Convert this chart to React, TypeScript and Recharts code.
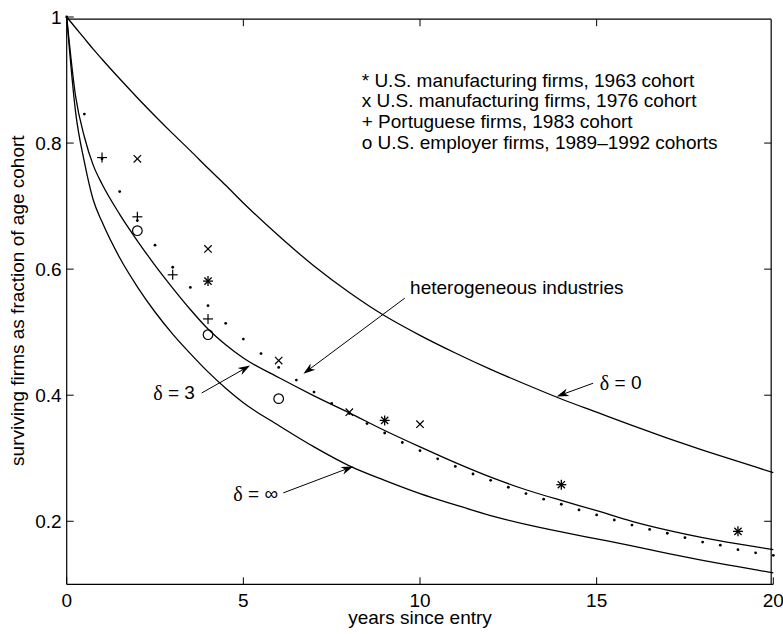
import {
  ComposedChart,
  Line,
  ReferenceDot,
  ReferenceLine,
  Scatter,
  XAxis,
  YAxis,
} from "recharts";

// model curves
const curveYears = [
  0, 0.25, 0.5, 0.75, 1, 1.5, 2, 2.5, 3, 3.5, 4, 4.5, 5, 6, 7, 8, 9, 10, 11, 12,
  13, 14, 15, 16, 17, 18, 19, 20,
];
const deltaZero = [
  1, 0.983, 0.966, 0.949, 0.933, 0.902, 0.872, 0.843, 0.815, 0.788, 0.76, 0.733,
  0.705, 0.653, 0.605, 0.563, 0.526, 0.495, 0.467, 0.441, 0.417, 0.394, 0.373,
  0.352, 0.332, 0.313, 0.295, 0.277,
];
const deltaThree = [
  1, 0.875, 0.81, 0.765, 0.735, 0.687, 0.645, 0.606, 0.57, 0.536, 0.505, 0.48,
  0.459, 0.428, 0.399, 0.372, 0.344, 0.318, 0.293, 0.27, 0.25, 0.233, 0.217,
  0.2, 0.186, 0.174, 0.164, 0.155,
];
const deltaInf = [
  1, 0.85, 0.77, 0.71, 0.675, 0.618, 0.572, 0.532, 0.497, 0.466, 0.437, 0.411,
  0.388, 0.352, 0.318, 0.288, 0.265, 0.244, 0.226, 0.209, 0.195, 0.183, 0.172,
  0.161, 0.149, 0.138, 0.128, 0.118,
];

// heterogeneous industries (dotted)
const hetYears = [
  0, 0.5, 1, 1.5, 2, 2.5, 3, 3.5, 4, 4.5, 5, 5.5, 6, 6.5, 7, 7.5, 8, 8.5, 9,
  9.5, 10, 10.5, 11, 11.5, 12, 12.5, 13, 13.5, 14, 14.5, 15, 15.5, 16, 16.5, 17,
  17.5, 18, 18.5, 19, 19.5, 20,
];
const hetValues = [
  1, 0.846, 0.775, 0.723, 0.677, 0.638, 0.603, 0.571, 0.542, 0.514, 0.489,
  0.466, 0.444, 0.424, 0.405, 0.387, 0.371, 0.355, 0.34, 0.325, 0.312, 0.299,
  0.287, 0.275, 0.265, 0.254, 0.244, 0.235, 0.227, 0.218, 0.21, 0.202, 0.194,
  0.187, 0.181, 0.174, 0.167, 0.162, 0.155, 0.15, 0.146,
];

// observed cohorts
const us63Years = [4, 9, 14, 19];
const us63Values = [0.581, 0.36, 0.258, 0.184];
const us76Years = [2, 4, 6, 8, 10];
const us76Values = [0.775, 0.632, 0.455, 0.373, 0.354];
const portYears = [1, 2, 3, 4];
const portValues = [0.777, 0.683, 0.591, 0.521];
const empYears = [2, 4, 6];
const empValues = [0.661, 0.496, 0.3945];

const xTicks = [0, 5, 10, 15, 20];
const yTicks = [0.2, 0.4, 0.6, 0.8, 1];
const X_MIN = 0;
const X_MAX = 20;
const Y_MIN = 0.1;
const Y_MAX = 1;
// lines right on the domain limit don't show up, so keep the box edges ~2px inside
const X_EDGE = X_MAX - 0.06;
const Y_EDGE = Y_MAX - 0.0035;

const legendLines = [
  "* U.S. manufacturing firms, 1963 cohort",
  "x U.S. manufacturing firms, 1976 cohort",
  "+ Portuguese firms, 1983 cohort",
  "o U.S. employer firms, 1989\u20131992 cohorts",
];

const zip = (xs: number[], ys: number[]) => xs.map((t, i) => ({ t, v: ys[i] }));

const FONT = "'Liberation Sans', Arial, Helvetica, sans-serif";
const SERIF = "'Liberation Serif', 'Times New Roman', serif";
const FS = 19;
const TL = 7;
const INK = "#000";

const fmtY = (v: number) => (v === 1 ? "1" : v.toFixed(1));

function LeftTick({ x, y, payload }: any) {
  return (
    <g>
      <line x1={x} y1={y} x2={x + TL} y2={y} stroke={INK} />
      <text x={x - 5} y={y} textAnchor="end" dominantBaseline="central" fontSize={FS} fontFamily={FONT} fill={INK}>
        {fmtY(payload.value)}
      </text>
    </g>
  );
}
function BottomTick({ x, y, payload }: any) {
  return (
    <g>
      <line x1={x} y1={y} x2={x} y2={y - TL} stroke={INK} />
      <text x={x} y={y + 16} textAnchor="middle" dominantBaseline="central" fontSize={FS} fontFamily={FONT} fill={INK}>
        {payload.value}
      </text>
    </g>
  );
}

// short inward tick: from the first end of a segment, TL px toward the second
const EdgeTick = ({ x1, y1, x2, y2 }: any) => {
  const d = Math.hypot(x2 - x1, y2 - y1) || 1;
  return (
    <line
      x1={x1}
      y1={y1}
      x2={x1 + ((x2 - x1) / d) * TL}
      y2={y1 + ((y2 - y1) / d) * TL}
      stroke={INK}
    />
  );
};

const Dot = ({ cx, cy }: any) => <circle cx={cx} cy={cy} r={1.4} fill={INK} />;
const Star = ({ cx, cy }: any) => (
  <g stroke={INK} strokeWidth={1.3}>
    <line x1={cx - 5} y1={cy} x2={cx + 5} y2={cy} />
    <line x1={cx} y1={cy - 5} x2={cx} y2={cy + 5} />
    <line x1={cx - 3.6} y1={cy - 3.6} x2={cx + 3.6} y2={cy + 3.6} />
    <line x1={cx - 3.6} y1={cy + 3.6} x2={cx + 3.6} y2={cy - 3.6} />
  </g>
);
const Cross = ({ cx, cy }: any) => (
  <g stroke={INK} strokeWidth={1.2}>
    <line x1={cx - 3.7} y1={cy - 3.7} x2={cx + 3.7} y2={cy + 3.7} />
    <line x1={cx - 3.7} y1={cy + 3.7} x2={cx + 3.7} y2={cy - 3.7} />
  </g>
);
const Plus = ({ cx, cy }: any) => (
  <g stroke={INK} strokeWidth={1.2}>
    <line x1={cx - 5} y1={cy} x2={cx + 5} y2={cy} />
    <line x1={cx} y1={cy - 5} x2={cx} y2={cy + 5} />
  </g>
);
const Ring = ({ cx, cy }: any) => (
  <circle cx={cx} cy={cy} r={4.8} fill="none" stroke={INK} strokeWidth={1.2} />
);

function Arrow({ x1, y1, x2, y2 }: any) {
  const a = Math.atan2(y2 - y1, x2 - x1);
  const len = 12;
  const w = 4;
  const bx = x2 - len * Math.cos(a);
  const by = y2 - len * Math.sin(a);
  const nx = x2 - len * 0.7 * Math.cos(a);
  const ny = y2 - len * 0.7 * Math.sin(a);
  const px = -Math.sin(a) * w;
  const py = Math.cos(a) * w;
  return (
    <g>
      <line x1={x1} y1={y1} x2={nx} y2={ny} stroke={INK} strokeWidth={1} />
      <polygon
        points={`${x2},${y2} ${bx + px},${by + py} ${nx},${ny} ${bx - px},${by - py}`}
        fill={INK}
      />
    </g>
  );
}

const note = (text: string, anchor: "start" | "end", serifHead = false) =>
  (p: any) => (
    <text x={p.cx} y={p.cy} textAnchor={anchor} dominantBaseline="central" fontSize={FS} fontFamily={FONT} fill={INK}>
      {serifHead ? (
        <>
          <tspan fontFamily={SERIF} fontSize={FS + 1}>{text[0]}</tspan>
          {text.slice(1)}
        </>
      ) : (
        text
      )}
    </text>
  );

export default function App() {
  return (
    <div style={{ position: "absolute", left: 0, top: 0, background: "#fff" }}>
      <ComposedChart
        width={783}
        height={634}
        margin={{ top: 17, right: 9.7, bottom: 0, left: 0 }}
      >
        <XAxis
          dataKey="t"
          type="number"
          domain={[X_MIN, X_MAX]}
          ticks={xTicks}
          interval={0}
          height={49.7}
          tickSize={0}
          tickMargin={0}
          tickLine={false}
          axisLine={{ stroke: INK, strokeWidth: 1.2 }}
          tick={<BottomTick />}
          label={(p: any) => {
            const vb = p.viewBox;
            return (
              <text x={vb.x + vb.width / 2} y={vb.y + 33.5} textAnchor="middle" dominantBaseline="central" fontSize={FS} fontFamily={FONT} fill={INK}>
                years since entry
              </text>
            );
          }}
        />
        <YAxis
          type="number"
          domain={[Y_MIN, Y_MAX]}
          ticks={yTicks}
          interval={0}
          width={66.7}
          tickSize={0}
          tickMargin={0}
          tickLine={false}
          axisLine={{ stroke: INK, strokeWidth: 1.2 }}
          tick={<LeftTick />}
          label={(p: any) => {
            const vb = p.viewBox;
            const cx = vb.x + 18;
            const cy = vb.y + vb.height / 2;
            return (
              <text x={cx} y={cy} transform={`rotate(-90 ${cx} ${cy})`} textAnchor="middle" dominantBaseline="central" fontSize={FS} fontFamily={FONT} fill={INK}>
                surviving firms as fraction of age cohort
              </text>
            );
          }}
        />

        {/* top and right edges of the box, with inward ticks */}
        <ReferenceLine segment={[{ x: X_MIN, y: Y_EDGE }, { x: X_EDGE, y: Y_EDGE }]} stroke={INK} strokeWidth={1.2} />
        <ReferenceLine segment={[{ x: X_EDGE, y: Y_MIN }, { x: X_EDGE, y: Y_EDGE }]} stroke={INK} strokeWidth={1.2} />
        {xTicks.slice(1, -1).map((t) => (
          <ReferenceLine key={`tt${t}`} segment={[{ x: t, y: Y_EDGE }, { x: t, y: Y_MIN }]} shape={<EdgeTick />} />
        ))}
        {yTicks.slice(0, -1).map((v) => (
          <ReferenceLine key={`rt${v}`} segment={[{ x: X_EDGE, y: v }, { x: X_MIN, y: v }]} shape={<EdgeTick />} />
        ))}

        <Line data={zip(curveYears, deltaZero)} dataKey="v" type="monotone" stroke={INK} strokeWidth={1.3} dot={false} isAnimationActive={false} />
        <Line data={zip(curveYears, deltaThree)} dataKey="v" type="monotone" stroke={INK} strokeWidth={1.3} dot={false} isAnimationActive={false} />
        <Line data={zip(curveYears, deltaInf)} dataKey="v" type="monotone" stroke={INK} strokeWidth={1.3} dot={false} isAnimationActive={false} />

        <Scatter data={zip(hetYears, hetValues)} dataKey="v" shape={<Dot />} isAnimationActive={false} />
        <Scatter data={zip(us63Years, us63Values)} dataKey="v" shape={<Star />} isAnimationActive={false} />
        <Scatter data={zip(us76Years, us76Values)} dataKey="v" shape={<Cross />} isAnimationActive={false} />
        <Scatter data={zip(portYears, portValues)} dataKey="v" shape={<Plus />} isAnimationActive={false} />
        <Scatter data={zip(empYears, empValues)} dataKey="v" shape={<Ring />} isAnimationActive={false} />

        {/* annotations */}
        <ReferenceLine segment={[{ x: 9.57, y: 0.554 }, { x: 6.7, y: 0.434 }]} shape={<Arrow />} />
        <ReferenceLine segment={[{ x: 14.9, y: 0.419 }, { x: 13.87, y: 0.398 }]} shape={<Arrow />} />
        <ReferenceLine segment={[{ x: 3.82, y: 0.4035 }, { x: 5.19, y: 0.447 }]} shape={<Arrow />} />
        <ReferenceLine segment={[{ x: 6.13, y: 0.245 }, { x: 8.11, y: 0.287 }]} shape={<Arrow />} />

        <ReferenceDot x={9.72} y={0.5704} r={0} shape={note("heterogeneous industries", "start")} />
        <ReferenceDot x={15.09} y={0.42} r={0} shape={note("\u03b4 = 0", "start", true)} />
        <ReferenceDot x={3.63} y={0.404} r={0} shape={note("\u03b4 = 3", "end", true)} />
        <ReferenceDot x={5.98} y={0.244} r={0} shape={note("\u03b4 = \u221e", "end", true)} />

        {legendLines.map((line, i) => (
          <ReferenceDot key={line} x={8.35} y={[0.9, 0.867, 0.834, 0.801][i]} r={0} shape={note(line, "start")} />
        ))}
      </ComposedChart>
    </div>
  );
}
